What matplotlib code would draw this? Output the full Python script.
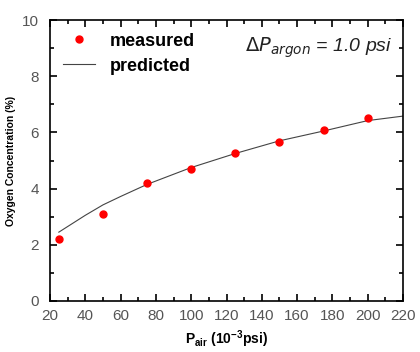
import matplotlib
matplotlib.use("Agg")
import matplotlib.pyplot as plt
from matplotlib.ticker import MultipleLocator

plt.rcParams['font.family'] = ['Liberation Sans', 'DejaVu Sans']

# measured data
p_air = [25, 50, 75, 100, 125, 150, 175, 200]
o2_meas = [2.2, 3.1, 4.2, 4.7, 5.25, 5.65, 6.1, 6.5]

# predicted curve
p_pred = [25, 40, 50, 60, 75, 100, 125, 150, 175, 200, 220]
o2_pred = [2.45, 3.05, 3.42, 3.72, 4.15, 4.75, 5.25, 5.7, 6.05, 6.42, 6.58]

fig = plt.figure(figsize=(4.2, 3.52), dpi=100)
ax = fig.add_axes([50/420, 1 - 301/352, 353/420, 281/352])

ax.plot(p_pred, o2_pred, color='#444444', lw=0.8, label='predicted', zorder=2)
ax.plot(p_air, o2_meas, 'o', color='red', ms=5, label='measured', zorder=3)

ax.set_xlim(20, 220)
ax.set_ylim(0, 10)
ax.xaxis.set_major_locator(MultipleLocator(20))
ax.xaxis.set_minor_locator(MultipleLocator(10))
ax.yaxis.set_major_locator(MultipleLocator(2))
ax.yaxis.set_minor_locator(MultipleLocator(1))
ax.tick_params(which='both', direction='in', top=True, right=True,
               labelcolor='#555555', labelsize=11, width=1.2)
ax.tick_params(which='major', length=5)
ax.tick_params(which='minor', length=3)
ax.tick_params(axis='y', pad=8)
ax.tick_params(axis='x', pad=6)
for s in ax.spines.values():
    s.set_linewidth(1.2)

ax.set_ylabel('Oxygen Concentration (%)', fontsize=7.5, fontweight='bold')
ax.set_xlabel(r'P$_{\mathregular{air}}$ (10$^{\mathregular{-3}}$psi)', fontsize=10, fontweight='bold')

h, l = ax.get_legend_handles_labels()
ax.legend(h[::-1], l[::-1], loc='upper left', frameon=False,
          handlelength=1.8, borderaxespad=0.3, labelspacing=0.45,
          prop={'weight': 'bold', 'size': 13})

ax.text(0.97, 0.9, r'$\mathit{\Delta P_{argon}}$ = 1.0 psi', transform=ax.transAxes,
        ha='right', va='center', fontsize=14, style='italic', color='#222222')

fig.savefig('out.png', dpi=100)
